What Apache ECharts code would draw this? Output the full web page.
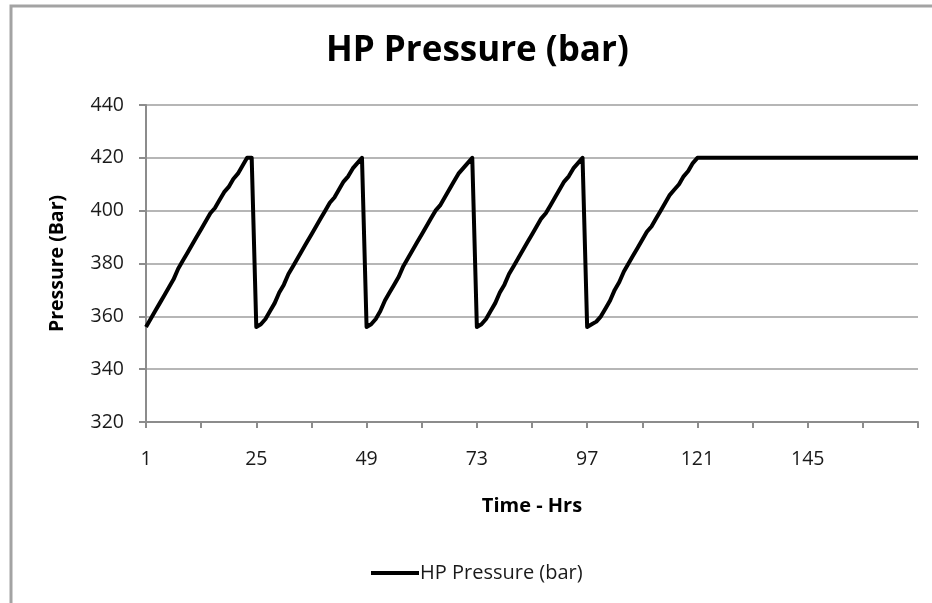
<!DOCTYPE html>
<html>
<head>
<meta charset="utf-8">
<script src="https://cdn.jsdelivr.net/npm/echarts@6/dist/echarts.min.js"></script>
<style>
html,body{margin:0;padding:0;background:#fff;}
#chart{width:932px;height:603px;}
</style>
</head>
<body>
<div id="chart"></div>
<script>
// Hours 1..169
var hours = [1,2,3,4,5,6,7,8,9,10,11,12,13,14,15,16,17,18,19,20,21,22,23,24,25,26,27,28,29,30,31,32,33,34,35,36,37,38,39,40,41,42,43,44,45,46,47,48,49,50,51,52,53,54,55,56,57,58,59,60,61,62,63,64,65,66,67,68,69,70,71,72,73,74,75,76,77,78,79,80,81,82,83,84,85,86,87,88,89,90,91,92,93,94,95,96,97,98,99,100,101,102,103,104,105,106,107,108,109,110,111,112,113,114,115,116,117,118,119,120,121,122,123,124,125,126,127,128,129,130,131,132,133,134,135,136,137,138,139,140,141,142,143,144,145,146,147,148,149,150,151,152,153,154,155,156,157,158,159,160,161,162,163,164,165,166,167,168,169];
// Pressure readings (bar), segment by segment
var cycle1 = [356,359,362,365,368,371,374,378,381,384,387,390,393,396,399,401,404,407,409,412,414,417,420,420];
var cycle2 = [356,357,359,362,365,369,372,376,379,382,385,388,391,394,397,400,403,405,408,411,413,416,418,420];
var cycle3 = [356,357,359,362,366,369,372,375,379,382,385,388,391,394,397,400,402,405,408,411,414,416,418,420];
var cycle4 = [356,357,359,362,365,369,372,376,379,382,385,388,391,394,397,399,402,405,408,411,413,416,418,420];
var finalRise = [356,357,358,360,363,366,370,373,377,380,383,386,389,392,394,397,400,403,406,408,410,413,415,418,420];
var plateau = [420,420,420,420,420,420,420,420,420,420,420,420,420,420,420,420,420,420,420,420,420,420,420,420,420,420,420,420,420,420,420,420,420,420,420,420,420,420,420,420,420,420,420,420,420,420,420,420];
var pressure = [].concat(cycle1, cycle2, cycle3, cycle4, finalRise, plateau);
var yTicks = {min: 320, max: 440, step: 20};

var chart = echarts.init(document.getElementById('chart'), null, {renderer: 'canvas'});
var FONT = 'Open Sans';
chart.setOption({
  animation: false,
  backgroundColor: '#ffffff',
  title: {
    text: 'HP Pressure (bar)',
    left: 321,
    top: 29,
    textStyle: {fontFamily: FONT, fontSize: 35, fontWeight: 'bold', color: '#000'}
  },
  graphic: [{
    type: 'polyline',
    shape: {points: [[11, 603], [11, 6], [932, 6]]},
    style: {stroke: '#a3a3a3', lineWidth: 3, fill: null},
    silent: true
  }],
  legend: {
    data: [{name: 'HP Pressure (bar)', icon: 'rect'}],
    left: 366,
    top: 558,
    itemWidth: 48,
    itemHeight: 4,
    itemGap: 2,
    textStyle: {fontFamily: FONT, fontSize: 20, color: '#1a1a1a', padding: [0, 0, 0, -4]}
  },
  grid: {left: 146, right: 14, top: 105, bottom: 181, containLabel: false, outerBoundsMode: 'none'},
  xAxis: {
    type: 'category',
    data: hours,
    boundaryGap: false,
    name: 'Time - Hrs',
    nameLocation: 'middle',
    nameGap: 74,
    nameTextStyle: {fontFamily: FONT, fontSize: 20, fontWeight: 'bold', color: '#000'},
    axisLine: {show: true, lineStyle: {color: '#8c8c8c', width: 2}},
    axisTick: {show: true, length: 6, lineStyle: {color: '#8c8c8c', width: 2},
      interval: function (i) { return i % 12 === 0; }},
    axisLabel: {fontFamily: FONT, fontSize: 19.5, color: '#1a1a1a', margin: 27,
      interval: function (i) { return i % 24 === 0 && i < 168; }},
    splitLine: {show: false}
  },
  yAxis: {
    type: 'value',
    min: yTicks.min,
    max: yTicks.max,
    interval: yTicks.step,
    name: 'Pressure (Bar)',
    nameLocation: 'middle',
    nameGap: 79,
    nameTextStyle: {fontFamily: FONT, fontSize: 19.5, fontWeight: 'bold', color: '#000'},
    axisLine: {show: true, lineStyle: {color: '#8c8c8c', width: 2}},
    axisTick: {show: true, length: 7, lineStyle: {color: '#8c8c8c', width: 2}},
    axisLabel: {fontFamily: FONT, fontSize: 19.5, color: '#1a1a1a', margin: 22},
    splitLine: {show: true, lineStyle: {color: '#9e9e9e', width: 1.5}}
  },
  series: [{
    name: 'HP Pressure (bar)',
    type: 'line',
    data: pressure,
    showSymbol: false,
    symbol: 'none',
    lineStyle: {color: '#000', width: 4, join: 'round'},
    itemStyle: {color: '#000'}
  }]
});
</script>
</body>
</html>
